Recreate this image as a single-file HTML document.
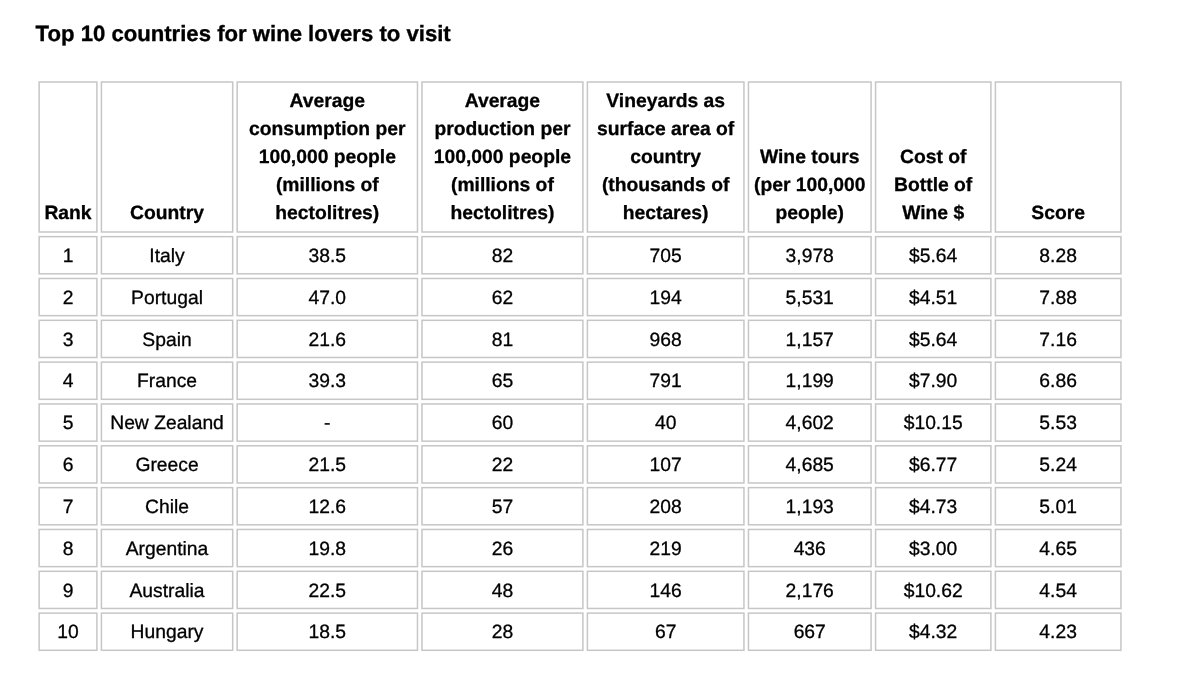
<!DOCTYPE html>
<html lang="en">
<head>
<meta charset="utf-8">
<title>Top 10 countries for wine lovers to visit</title>
<style>
html,body{margin:0;padding:0;background:#fff;}
body{width:1200px;height:686px;overflow:hidden;position:relative;font-family:"Liberation Sans",Arial,Helvetica,sans-serif;color:#000;text-rendering:geometricPrecision;}
h1{position:absolute;margin:0;left:35.6px;top:19.00px;font-size:22.13px;line-height:30px;font-weight:bold;white-space:nowrap;-webkit-text-stroke:0.35px #000;}
.wrap{position:absolute;left:0;top:0;width:1200px;height:686px;}
.wrap svg{position:absolute;left:0;top:0;width:1200px;height:686px;}
.wrap svg rect{fill:none;stroke:#c6c6c6;stroke-width:1.5;}
table{position:absolute;left:38.38px;top:81.25px;display:grid;grid-template-columns:59.27px 132.78px 181.80px 162.42px 158.05px 124.13px 116.82px 127.05px;grid-template-rows:151.50px repeat(10,38.68px);gap:3.15px 3.00px;font-size:19.3px;margin:0;padding:0;border:0;}
thead,tbody,tr{display:contents;}
th,td{box-sizing:border-box;display:flex;justify-content:center;text-align:center;padding:0;margin:0;white-space:nowrap;}
th{align-items:flex-end;font-weight:bold;-webkit-text-stroke:0.3px #000;line-height:28.0px;padding-bottom:5.00px;}
td{align-items:center;font-weight:normal;line-height:20px;-webkit-text-stroke:0.3px #000;padding-top:3.56px;}
</style>
</head>
<body>
<h1>Top 10 countries for wine lovers to visit</h1>
<div class="wrap">
<svg viewBox="0 0 1200 686" width="1200" height="686" aria-hidden="true">
<rect x="39.13" y="82.00" width="57.77" height="150.00"/>
<rect x="101.40" y="82.00" width="131.28" height="150.00"/>
<rect x="237.18" y="82.00" width="180.30" height="150.00"/>
<rect x="421.98" y="82.00" width="160.92" height="150.00"/>
<rect x="587.40" y="82.00" width="156.55" height="150.00"/>
<rect x="748.45" y="82.00" width="122.63" height="150.00"/>
<rect x="875.58" y="82.00" width="115.32" height="150.00"/>
<rect x="995.40" y="82.00" width="125.55" height="150.00"/>
<rect x="39.13" y="236.65" width="57.77" height="37.18"/>
<rect x="101.40" y="236.65" width="131.28" height="37.18"/>
<rect x="237.18" y="236.65" width="180.30" height="37.18"/>
<rect x="421.98" y="236.65" width="160.92" height="37.18"/>
<rect x="587.40" y="236.65" width="156.55" height="37.18"/>
<rect x="748.45" y="236.65" width="122.63" height="37.18"/>
<rect x="875.58" y="236.65" width="115.32" height="37.18"/>
<rect x="995.40" y="236.65" width="125.55" height="37.18"/>
<rect x="39.13" y="278.48" width="57.77" height="37.18"/>
<rect x="101.40" y="278.48" width="131.28" height="37.18"/>
<rect x="237.18" y="278.48" width="180.30" height="37.18"/>
<rect x="421.98" y="278.48" width="160.92" height="37.18"/>
<rect x="587.40" y="278.48" width="156.55" height="37.18"/>
<rect x="748.45" y="278.48" width="122.63" height="37.18"/>
<rect x="875.58" y="278.48" width="115.32" height="37.18"/>
<rect x="995.40" y="278.48" width="125.55" height="37.18"/>
<rect x="39.13" y="320.31" width="57.77" height="37.18"/>
<rect x="101.40" y="320.31" width="131.28" height="37.18"/>
<rect x="237.18" y="320.31" width="180.30" height="37.18"/>
<rect x="421.98" y="320.31" width="160.92" height="37.18"/>
<rect x="587.40" y="320.31" width="156.55" height="37.18"/>
<rect x="748.45" y="320.31" width="122.63" height="37.18"/>
<rect x="875.58" y="320.31" width="115.32" height="37.18"/>
<rect x="995.40" y="320.31" width="125.55" height="37.18"/>
<rect x="39.13" y="362.14" width="57.77" height="37.18"/>
<rect x="101.40" y="362.14" width="131.28" height="37.18"/>
<rect x="237.18" y="362.14" width="180.30" height="37.18"/>
<rect x="421.98" y="362.14" width="160.92" height="37.18"/>
<rect x="587.40" y="362.14" width="156.55" height="37.18"/>
<rect x="748.45" y="362.14" width="122.63" height="37.18"/>
<rect x="875.58" y="362.14" width="115.32" height="37.18"/>
<rect x="995.40" y="362.14" width="125.55" height="37.18"/>
<rect x="39.13" y="403.97" width="57.77" height="37.18"/>
<rect x="101.40" y="403.97" width="131.28" height="37.18"/>
<rect x="237.18" y="403.97" width="180.30" height="37.18"/>
<rect x="421.98" y="403.97" width="160.92" height="37.18"/>
<rect x="587.40" y="403.97" width="156.55" height="37.18"/>
<rect x="748.45" y="403.97" width="122.63" height="37.18"/>
<rect x="875.58" y="403.97" width="115.32" height="37.18"/>
<rect x="995.40" y="403.97" width="125.55" height="37.18"/>
<rect x="39.13" y="445.80" width="57.77" height="37.18"/>
<rect x="101.40" y="445.80" width="131.28" height="37.18"/>
<rect x="237.18" y="445.80" width="180.30" height="37.18"/>
<rect x="421.98" y="445.80" width="160.92" height="37.18"/>
<rect x="587.40" y="445.80" width="156.55" height="37.18"/>
<rect x="748.45" y="445.80" width="122.63" height="37.18"/>
<rect x="875.58" y="445.80" width="115.32" height="37.18"/>
<rect x="995.40" y="445.80" width="125.55" height="37.18"/>
<rect x="39.13" y="487.63" width="57.77" height="37.18"/>
<rect x="101.40" y="487.63" width="131.28" height="37.18"/>
<rect x="237.18" y="487.63" width="180.30" height="37.18"/>
<rect x="421.98" y="487.63" width="160.92" height="37.18"/>
<rect x="587.40" y="487.63" width="156.55" height="37.18"/>
<rect x="748.45" y="487.63" width="122.63" height="37.18"/>
<rect x="875.58" y="487.63" width="115.32" height="37.18"/>
<rect x="995.40" y="487.63" width="125.55" height="37.18"/>
<rect x="39.13" y="529.46" width="57.77" height="37.18"/>
<rect x="101.40" y="529.46" width="131.28" height="37.18"/>
<rect x="237.18" y="529.46" width="180.30" height="37.18"/>
<rect x="421.98" y="529.46" width="160.92" height="37.18"/>
<rect x="587.40" y="529.46" width="156.55" height="37.18"/>
<rect x="748.45" y="529.46" width="122.63" height="37.18"/>
<rect x="875.58" y="529.46" width="115.32" height="37.18"/>
<rect x="995.40" y="529.46" width="125.55" height="37.18"/>
<rect x="39.13" y="571.29" width="57.77" height="37.18"/>
<rect x="101.40" y="571.29" width="131.28" height="37.18"/>
<rect x="237.18" y="571.29" width="180.30" height="37.18"/>
<rect x="421.98" y="571.29" width="160.92" height="37.18"/>
<rect x="587.40" y="571.29" width="156.55" height="37.18"/>
<rect x="748.45" y="571.29" width="122.63" height="37.18"/>
<rect x="875.58" y="571.29" width="115.32" height="37.18"/>
<rect x="995.40" y="571.29" width="125.55" height="37.18"/>
<rect x="39.13" y="613.12" width="57.77" height="37.18"/>
<rect x="101.40" y="613.12" width="131.28" height="37.18"/>
<rect x="237.18" y="613.12" width="180.30" height="37.18"/>
<rect x="421.98" y="613.12" width="160.92" height="37.18"/>
<rect x="587.40" y="613.12" width="156.55" height="37.18"/>
<rect x="748.45" y="613.12" width="122.63" height="37.18"/>
<rect x="875.58" y="613.12" width="115.32" height="37.18"/>
<rect x="995.40" y="613.12" width="125.55" height="37.18"/>
</svg>
<table>
<thead>
<tr>
<th>Rank</th>
<th>Country</th>
<th>Average<br>consumption per<br>100,000 people<br>(millions of<br>hectolitres)</th>
<th>Average<br>production per<br>100,000 people<br>(millions of<br>hectolitres)</th>
<th>Vineyards as<br>surface area of<br>country<br>(thousands of<br>hectares)</th>
<th>Wine tours<br>(per 100,000<br>people)</th>
<th>Cost of<br>Bottle of<br>Wine $</th>
<th>Score</th>
</tr>
</thead>
<tbody>
<tr><td>1</td><td>Italy</td><td>38.5</td><td>82</td><td>705</td><td>3,978</td><td>$5.64</td><td>8.28</td></tr>
<tr><td>2</td><td>Portugal</td><td>47.0</td><td>62</td><td>194</td><td>5,531</td><td>$4.51</td><td>7.88</td></tr>
<tr><td>3</td><td>Spain</td><td>21.6</td><td>81</td><td>968</td><td>1,157</td><td>$5.64</td><td>7.16</td></tr>
<tr><td>4</td><td>France</td><td>39.3</td><td>65</td><td>791</td><td>1,199</td><td>$7.90</td><td>6.86</td></tr>
<tr><td>5</td><td>New Zealand</td><td>-</td><td>60</td><td>40</td><td>4,602</td><td>$10.15</td><td>5.53</td></tr>
<tr><td>6</td><td>Greece</td><td>21.5</td><td>22</td><td>107</td><td>4,685</td><td>$6.77</td><td>5.24</td></tr>
<tr><td>7</td><td>Chile</td><td>12.6</td><td>57</td><td>208</td><td>1,193</td><td>$4.73</td><td>5.01</td></tr>
<tr><td>8</td><td>Argentina</td><td>19.8</td><td>26</td><td>219</td><td>436</td><td>$3.00</td><td>4.65</td></tr>
<tr><td>9</td><td>Australia</td><td>22.5</td><td>48</td><td>146</td><td>2,176</td><td>$10.62</td><td>4.54</td></tr>
<tr><td>10</td><td>Hungary</td><td>18.5</td><td>28</td><td>67</td><td>667</td><td>$4.32</td><td>4.23</td></tr>
</tbody>
</table>
</div>
</body>
</html>
